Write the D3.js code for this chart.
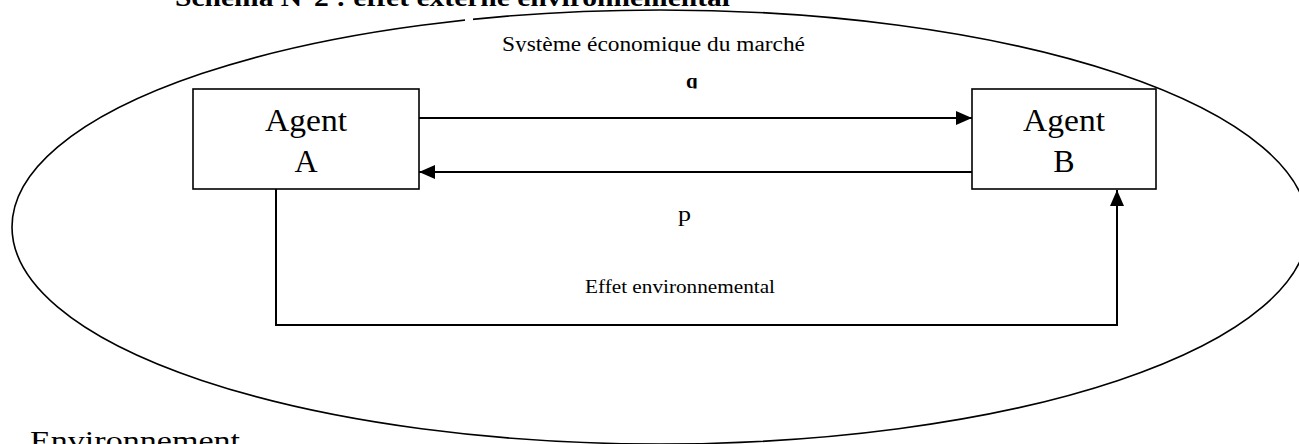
<!DOCTYPE html>
<html>
<head>
<meta charset="utf-8">
<script src="https://cdn.jsdelivr.net/npm/d3@7"></script>
<style>
  html, body { margin: 0; padding: 0; background: #fff; }
  svg { display: block; }
  text { font-family: "Liberation Serif", "Times New Roman", serif; fill: #000; }
</style>
</head>
<body>
<svg id="chart" width="1299" height="444"></svg>
<script>
// ---- Diagram content ----
const titleText = "Schéma N°2 : effet externe environnemental";
const systemLabel = "Système économique du marché";
const environmentLabel = "Environnement";
const agents = [
  { id: "A", line1: "Agent", line2: "A" },
  { id: "B", line1: "Agent", line2: "B" }
];
const flowLabels = ["q", "p"];
const externalityLabel = "Effet environnemental";

// ---- Layout ----
const W = 1299, H = 444;
const svg = d3.select("#chart");
const defs = svg.append("defs");

// arrow marker
defs.append("marker")
  .attr("id", "arrow")
  .attr("viewBox", "0 0 16 14")
  .attr("refX", 16).attr("refY", 7)
  .attr("markerUnits", "userSpaceOnUse")
  .attr("markerWidth", 16).attr("markerHeight", 14)
  .attr("orient", "auto")
  .append("path").attr("d", "M0,0 L16,7 L0,14 Z").attr("fill", "#000");

// clip paths mimicking cropped text boxes
defs.append("clipPath").attr("id", "clipSys")
  .append("rect").attr("x", 0).attr("y", 25).attr("width", W).attr("height", 27);
defs.append("clipPath").attr("id", "clipQ")
  .append("rect").attr("x", 0).attr("y", 60).attr("width", W).attr("height", 28.5);

// Title (cut off at top)
svg.append("text")
  .attr("x", 175).attr("y", 6)
  .attr("font-size", 25).attr("font-weight", "bold")
  .attr("textLength", 555).attr("lengthAdjust", "spacingAndGlyphs")
  .text(titleText);

// Environment ellipse
svg.append("ellipse")
  .attr("cx", 660).attr("cy", 227).attr("rx", 648).attr("ry", 217)
  .attr("fill", "none").attr("stroke", "#000").attr("stroke-width", 1.6);
// small break in the ellipse outline
svg.append("rect").attr("x", 465).attr("y", 14).attr("width", 8).attr("height", 12).attr("fill", "#fff");

// System label
svg.append("text")
  .attr("x", 502).attr("y", 51)
  .attr("font-size", 20)
  .attr("textLength", 303).attr("lengthAdjust", "spacingAndGlyphs")
  .attr("clip-path", "url(#clipSys)")
  .text(systemLabel);

// Agent boxes
const boxes = { A: { x: 193, y: 89, w: 226, h: 100 }, B: { x: 972, y: 89, w: 184, h: 100 } };
const g = svg.selectAll("g.agent").data(agents).enter().append("g").attr("class", "agent");
g.append("rect")
  .attr("x", d => boxes[d.id].x).attr("y", d => boxes[d.id].y)
  .attr("width", d => boxes[d.id].w).attr("height", d => boxes[d.id].h)
  .attr("fill", "#fff").attr("stroke", "#000").attr("stroke-width", 1.6);
g.append("text")
  .attr("x", d => boxes[d.id].x + boxes[d.id].w / 2 - 41).attr("y", 131)
  .attr("font-size", 32)
  .attr("textLength", 82).attr("lengthAdjust", "spacingAndGlyphs")
  .text(d => d.line1);
g.append("text")
  .attr("x", d => boxes[d.id].x + boxes[d.id].w / 2).attr("y", 172)
  .attr("text-anchor", "middle").attr("font-size", 32)
  .text(d => d.line2);

const A = boxes.A, B = boxes.B;
const line = d3.line();

// q flow A -> B
svg.append("path")
  .attr("d", line([[A.x + A.w, 118], [B.x, 118]]))
  .attr("stroke", "#000").attr("stroke-width", 2.2).attr("fill", "none")
  .attr("marker-end", "url(#arrow)");
svg.append("text")
  .attr("x", 686).attr("y", 88)
  .attr("font-size", 21).attr("font-weight", "bold")
  .attr("clip-path", "url(#clipQ)")
  .text(flowLabels[0]);

// p flow B -> A
svg.append("path")
  .attr("d", line([[B.x, 172], [A.x + A.w, 172]]))
  .attr("stroke", "#000").attr("stroke-width", 2.2).attr("fill", "none")
  .attr("marker-end", "url(#arrow)");
svg.append("text")
  .attr("x", 678).attr("y", 221)
  .attr("font-size", 20)
  .attr("textLength", 13).attr("lengthAdjust", "spacingAndGlyphs")
  .text(flowLabels[1]);

// Environmental externality A -> B
svg.append("path")
  .attr("d", line([[276, A.y + A.h], [276, 325], [1117, 325], [1117, B.y + B.h + 1]]))
  .attr("stroke", "#000").attr("stroke-width", 2).attr("fill", "none")
  .attr("marker-end", "url(#arrow)");
svg.append("text")
  .attr("x", 585).attr("y", 293)
  .attr("font-size", 18)
  .attr("textLength", 190).attr("lengthAdjust", "spacingAndGlyphs")
  .text(externalityLabel);

// Environment label (cut off at bottom)
svg.append("text")
  .attr("x", 30).attr("y", 450)
  .attr("font-size", 28)
  .attr("textLength", 210).attr("lengthAdjust", "spacingAndGlyphs")
  .text(environmentLabel);
</script>
</body>
</html>
